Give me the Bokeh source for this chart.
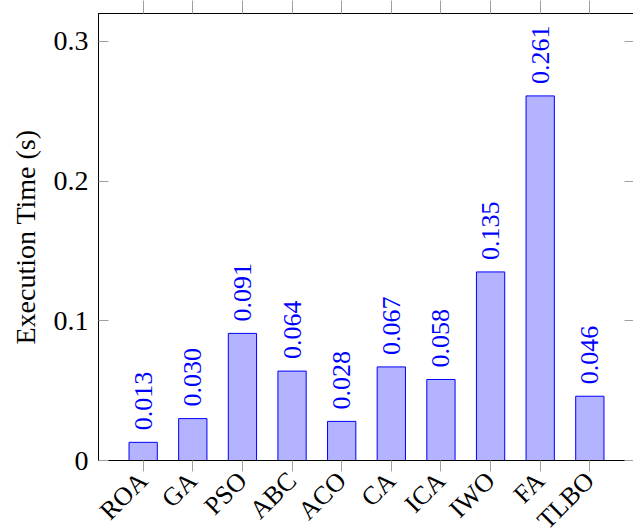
import math
from bokeh.plotting import figure
from bokeh.models import (ColumnDataSource, LinearAxis, FixedTicker, Label,
                          CustomJSTickFormatter, Range1d)
from bokeh.embed import file_html
from bokeh.resources import INLINE

algorithms = ["ROA", "GA", "PSO", "ABC", "ACO", "CA", "ICA", "IWO", "FA", "TLBO"]
exec_times = [0.013, 0.030, 0.091, 0.064, 0.028, 0.067, 0.058, 0.135, 0.261, 0.046]
y_ticks = [0, 0.1, 0.2, 0.3]

FONT = "Liberation Serif"
positions = list(range(len(algorithms)))
src = ColumnDataSource(dict(x=positions, top=exec_times))

p = figure(frame_width=536, frame_height=447, output_backend="svg", toolbar_location=None,
           x_range=Range1d(-0.9, 9.9), y_range=Range1d(0, 0.32),
           min_border_left=98, min_border_right=0, min_border_top=13,
           min_border_bottom=71)
p.xgrid.visible = False
p.ygrid.visible = False
p.outline_line_color = "black"
p.outline_line_width = 1
p.background_fill_color = "white"
p.border_fill_color = "white"

p.vbar(x="x", top="top", width=0.57, source=src,
       fill_color="#b3b3ff", line_color="#0000ff", line_width=1)

for xi, v in zip(positions, exec_times):
    p.add_layout(Label(x=xi, y=v, text="%.3f" % v, angle=math.pi / 2,
                       text_align="left", text_baseline="middle", y_offset=12,
                       text_color="#0000ff", text_font=FONT,
                       text_font_size="26px"))

tick_color = "#a0a0a0"
blank = CustomJSTickFormatter(code="return '';")

# bottom x axis
xa = p.xaxis[0]
xa.ticker = FixedTicker(ticks=positions)
xa.formatter = CustomJSTickFormatter(args=dict(names=algorithms),
                                     code="return names[Math.round(tick)];")
xa.major_label_orientation = math.pi / 4
xa.major_label_text_font = FONT
xa.major_label_text_font_size = "26px"
xa.major_label_text_color = "black"
xa.major_tick_in = 0
xa.major_tick_out = 11
xa.major_tick_line_color = tick_color
xa.minor_tick_line_color = None
xa.axis_line_color = "black"
xa.major_label_standoff = 5

# left y axis
ya = p.yaxis[0]
ya.ticker = FixedTicker(ticks=y_ticks)
ya.formatter = CustomJSTickFormatter(code="return tick == 0 ? '0' : tick.toFixed(1);")
ya.major_label_text_font = FONT
ya.major_label_text_font_size = "28px"
ya.major_label_text_color = "black"
ya.major_tick_in = 10
ya.major_tick_out = 0
ya.major_tick_line_color = tick_color
ya.minor_tick_line_color = None
ya.axis_line_color = "black"
ya.major_label_standoff = 10
ya.axis_label = "Execution Time (s)"
ya.axis_label_text_font = FONT
ya.axis_label_text_font_size = "28px"
ya.axis_label_text_font_style = "normal"
ya.axis_label_text_color = "black"
ya.axis_label_standoff = 10

# right y axis (ticks only)
ra = LinearAxis(ticker=FixedTicker(ticks=y_ticks), formatter=blank)
ra.major_tick_in = 10
ra.major_tick_out = 0
ra.major_label_standoff = 0
ra.major_tick_line_color = tick_color
ra.minor_tick_line_color = None
ra.axis_line_color = "black"
p.add_layout(ra, "right")

# top x axis (ticks only)
ta = LinearAxis(ticker=FixedTicker(ticks=positions), formatter=blank)
ta.major_tick_in = 0
ta.major_tick_out = 13
ta.major_label_standoff = 0
ta.major_tick_line_color = tick_color
ta.minor_tick_line_color = None
ta.axis_line_color = "black"
p.add_layout(ta, "above")

open("out.html", "w").write(file_html(p, INLINE))
